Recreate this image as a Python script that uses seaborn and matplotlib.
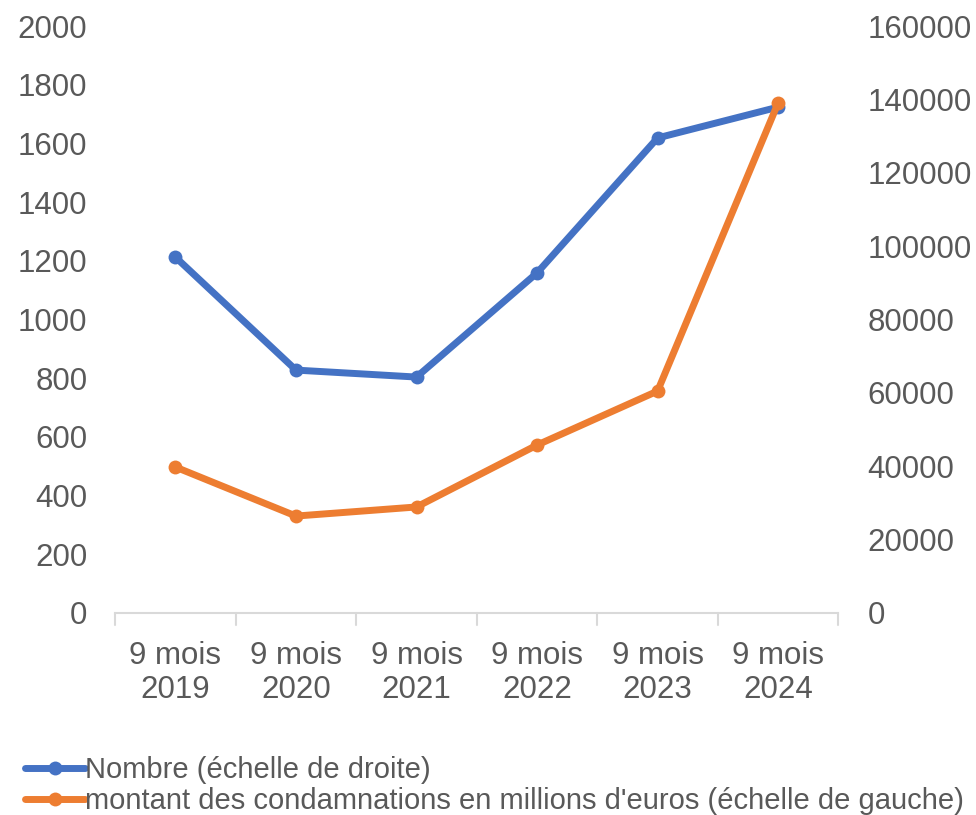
import matplotlib
matplotlib.use("Agg")
import matplotlib.pyplot as plt
import seaborn as sns
import pandas as pd

periods = ["9 mois\n2019", "9 mois\n2020", "9 mois\n2021", "9 mois\n2022", "9 mois\n2023", "9 mois\n2024"]
nombre = [97000, 66200, 64300, 92700, 129500, 137900]          # right axis
montant = [497, 330, 361, 572, 756, 1738]                        # left axis, millions d'euros

label_nombre = "Nombre (échelle de droite)"
label_montant = "montant des condamnations en millions d'euros (échelle de gauche)"

blue = "#4472C4"
orange = "#ED7D31"
grey_text = "#595959"
FS = 22.5
FS_LEG = 21

sns.set_theme(style="white")
plt.rcParams["font.family"] = ["Liberation Sans", "DejaVu Sans"]

df = pd.DataFrame({"periode": periods, "nombre": nombre, "montant": montant})
df["x"] = range(len(df))

fig = plt.figure(figsize=(9.76, 8.15), dpi=100)
ax = fig.add_axes([0.118, 0.248, 0.741, 0.72])
ax2 = ax.twinx()

sns.lineplot(data=df, x="x", y="montant", ax=ax, color=orange, linewidth=5,
             marker="o", markersize=10, markeredgewidth=0, label=label_montant,
             legend=False, zorder=3)
sns.lineplot(data=df, x="x", y="nombre", ax=ax2, color=blue, linewidth=5,
             marker="o", markersize=10, markeredgewidth=0, label=label_nombre,
             legend=False, zorder=2)

# draw orange above blue: put left axes on top with transparent background
ax.set_zorder(ax2.get_zorder() + 1)
ax.patch.set_visible(False)

ax.set_xlim(-0.5, len(df) - 0.5)
ax.set_ylim(0, 2000)
ax2.set_ylim(0, 160000)
ax.set_yticks(range(0, 2001, 200))
ax2.set_yticks(range(0, 160001, 20000))

ax.set_xticks(df["x"])
ax.set_xticklabels(periods)
ax.set_xlabel("")
ax.set_ylabel("")
ax2.set_ylabel("")

for a in (ax, ax2):
    for s in ("top", "left", "right", "bottom"):
        a.spines[s].set_visible(False)
    a.tick_params(axis="y", length=0, labelsize=FS, labelcolor=grey_text)
    a.grid(False)
ax.tick_params(axis="y", pad=20)
ax2.tick_params(axis="y", pad=21)

# category axis line with boundary tick marks
ax.spines["bottom"].set_visible(True)
ax.spines["bottom"].set_color("#D9D9D9")
ax.spines["bottom"].set_linewidth(1.5)
ax.tick_params(axis="x", length=0, labelsize=FS, labelcolor=grey_text, pad=20)
for b in [i - 0.5 for i in range(len(df) + 1)]:
    ax.plot([b, b], [0, -0.02], transform=ax.get_xaxis_transform(),
            color="#D9D9D9", linewidth=1.5, clip_on=False)
for lbl in ax.get_xticklabels():
    lbl.set_linespacing(1.2)

h1, l1 = ax2.get_legend_handles_labels()
h2, l2 = ax.get_legend_handles_labels()
fig.legend(h1 + h2, l1 + l2, loc="lower left", bbox_to_anchor=(0.026, 0.0),
           frameon=False, fontsize=FS_LEG, labelcolor=grey_text,
           handlelength=2.05, handletextpad=0.0, labelspacing=0.1,
           borderaxespad=0.0, borderpad=0.0)

fig.savefig("out.png", dpi=100)
